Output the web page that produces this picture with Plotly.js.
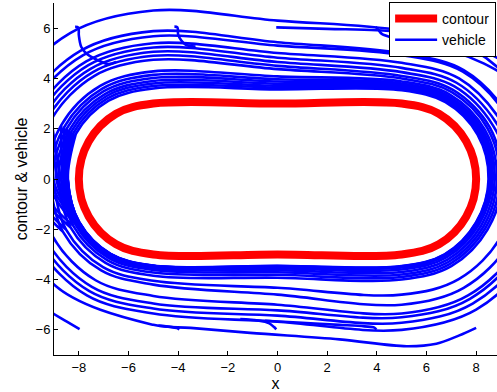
<!DOCTYPE html>
<html>
<head>
<meta charset="utf-8">
<script src="https://cdn.plot.ly/plotly-3.0.1.min.js"></script>
<style>html,body{margin:0;padding:0;background:#fff;}#chart{width:497px;height:392px;}</style>
</head>
<body>
<div id="chart"></div>
<script>
// Contour (stadium) points
const contourX = [0, 5, 6.5, 7.598, 8, 7.598, 6.5, 5, 0, -5, -6.5, -7.598, -8, -7.598, -6.5, -5, 0];
const contourY = [3, 3, 2.598, 1.5, 0, -1.5, -2.598, -3, -3, -3, -2.598, -1.5, 0, 1.5, 2.598, 3, 3];

// Vehicle laps (x list and y list per lap)
const lapX = [
  [-9.633, -11.7, -10.802, -8.35, -5, 0, 5, 7.95, 10.109, 10.95, 10.196, 8, 5, 0, -5, -7.675, -9.633, -10.35, -10.802],
  [-9.46, -10.88, -10.092, -7.94, -5, 0, 5, 7.5, 9.33, 10.36, 9.954, 7.86, 5, 0, -5, -7.575, -9.46, -10.15, -10.092],
  [-9.287, -10.68, -9.919, -7.84, -5, 0, 5, 7.465, 9.269, 10.215, 9.763, 7.75, 5, 0, -5, -7.475, -9.287, -9.95, -9.919],
  [-9.027, -10.4, -9.676, -7.7, -5, 0, 5, 7.31, 9.001, 9.985, 9.633, 7.675, 5, 0, -5, -7.325, -9.027, -9.65, -9.676],
  [-8.637, -10.23, -9.529, -7.615, -5, 0, 5, 7.21, 8.828, 9.71, 9.33, 7.5, 5, 0, -5, -7.1, -8.637, -9.2, -9.529],
  [-8.507, -10.06, -9.382, -7.53, -5, 0, 5, 7.125, 8.681, 9.425, 8.984, 7.3, 5, 0, -5, -7.025, -8.507, -9.05, -9.382],
  [-8.334, -9.9, -9.243, -7.45, -5, 0, 5, 7.05, 8.551, 9.05, 8.464, 7, 5, 0, -5, -6.925, -8.334, -8.85, -9.243],
  [-8.222, -9.74, -9.105, -7.37, -5, 0, 5, 7, 8.464, 8.95, 8.377, 6.95, 5, 0, -5, -6.86, -8.222, -8.72, -9.105],
  [-8.135, -9.28, -8.706, -7.14, -5, 0, 5, 6.94, 8.36, 8.84, 8.291, 6.9, 5, 0, -5, -6.81, -8.135, -8.62, -8.706],
  [-8.074, -9.14, -8.585, -7.07, -5, 0, 5, 6.9, 8.291, 8.75, 8.204, 6.85, 5, 0, -5, -6.775, -8.074, -8.55, -8.585],
  [-8.031, -9.02, -8.481, -7.01, -5, 0, 5, 6.87, 8.239, 8.67, 8.118, 6.8, 5, 0, -5, -6.75, -8.031, -8.5, -8.481],
  [-7.996, -8.9, -8.377, -6.95, -5, 0, 5, 6.84, 8.187, 8.6, 8.048, 6.76, 5, 0, -5, -6.73, -7.996, -8.46, -8.377],
  [-7.988, -8.8, -8.291, -6.9, -5, 0, 5, 6.81, 8.135, 8.555, 8.022, 6.745, 5, 0, -5, -6.725, -7.988, -8.45, -8.291],
  [-7.988, -8.7, -8.204, -6.85, -5, 0, 5, 6.785, 8.092, 8.52, 8.005, 6.735, 5, 0, -5, -6.725, -7.988, -8.45, -8.204],
  [-7.979, -8.6, -8.118, -6.8, -5, 0, 5, 6.765, 8.057, 8.5, 7.996, 6.73, 5, 0, -5, -6.72, -7.979, -8.44, -8.118]
];
const lapY = [
  [-2.675, 0, 3.35, 5.802, 6.7, 6.3, 5.9, 5.109, 2.95, 0, -3, -5.196, -6, -5.675, -5.35, -4.633, -2.675, 0, 3.35],
  [-2.575, 0, 2.94, 5.092, 5.88, 5.44, 5, 4.33, 2.5, 0, -2.86, -4.954, -5.72, -5.435, -5.15, -4.46, -2.575, 0, 2.94],
  [-2.475, 0, 2.84, 4.919, 5.68, 5.305, 4.93, 4.269, 2.465, 0, -2.75, -4.763, -5.5, -5.225, -4.95, -4.287, -2.475, 0, 2.84],
  [-2.325, 0, 2.7, 4.676, 5.4, 5.01, 4.62, 4.001, 2.31, 0, -2.675, -4.633, -5.35, -5.0, -4.65, -4.027, -2.325, 0, 2.7],
  [-2.1, 0, 2.615, 4.529, 5.23, 4.825, 4.42, 3.828, 2.21, 0, -2.5, -4.33, -5, -4.6, -4.2, -3.637, -2.1, 0, 2.615],
  [-2.025, 0, 2.53, 4.382, 5.06, 4.655, 4.25, 3.681, 2.125, 0, -2.3, -3.984, -4.6, -4.325, -4.05, -3.507, -2.025, 0, 2.53],
  [-1.925, 0, 2.45, 4.243, 4.9, 4.5, 4.1, 3.551, 2.05, 0, -2, -3.464, -4, -3.925, -3.85, -3.334, -1.925, 0, 2.45],
  [-1.86, 0, 2.37, 4.105, 4.74, 4.37, 4, 3.464, 2, 0, -1.95, -3.377, -3.9, -3.81, -3.72, -3.222, -1.86, 0, 2.37],
  [-1.81, 0, 2.14, 3.706, 4.28, 4.08, 3.88, 3.36, 1.94, 0, -1.9, -3.291, -3.8, -3.71, -3.62, -3.135, -1.81, 0, 2.14],
  [-1.775, 0, 2.07, 3.585, 4.14, 3.97, 3.8, 3.291, 1.9, 0, -1.85, -3.204, -3.7, -3.625, -3.55, -3.074, -1.775, 0, 2.07],
  [-1.75, 0, 2.01, 3.481, 4.02, 3.88, 3.74, 3.239, 1.87, 0, -1.8, -3.118, -3.6, -3.55, -3.5, -3.031, -1.75, 0, 2.01],
  [-1.73, 0, 1.95, 3.377, 3.9, 3.79, 3.68, 3.187, 1.84, 0, -1.76, -3.048, -3.52, -3.49, -3.46, -2.996, -1.73, 0, 1.95],
  [-1.725, 0, 1.9, 3.291, 3.8, 3.71, 3.62, 3.135, 1.81, 0, -1.745, -3.022, -3.49, -3.47, -3.45, -2.988, -1.725, 0, 1.9],
  [-1.725, 0, 1.85, 3.204, 3.7, 3.635, 3.57, 3.092, 1.785, 0, -1.735, -3.005, -3.47, -3.46, -3.45, -2.988, -1.725, 0, 1.85],
  [-1.72, 0, 1.8, 3.118, 3.6, 3.565, 3.53, 3.057, 1.765, 0, -1.73, -2.996, -3.46, -3.45, -3.44, -2.979, -1.72, 0, 1.8]
];

// Start segments of individual vehicles (starting near (±8,±6), (±4,±6), (0,±6))
const startX = [
  [-8.15, -8.02, -8.0, -7.9, -7.65, -7.3, -6.8, -6.5],
  [-4.15, -4.03, -4.0, -3.88, -3.68, -3.3],
  [-0.05, 2, 4, 5.5, 7, 8.3, 9.2],
  [3.95, 4.05, 4.2, 4.6, 5.5, 7, 8.3, 9.2],
  [8.0, 7.3, 6.4, 5.2, 2.5, -1.1, -3.5, -5, -9.1, -10.8],
  [-7.97, -8.5, -9.0, -9.5],
  [-3.95, -4.05, -4.3, -4.8],
  [-0.05, -0.15, -0.35, -0.8, -1.5],
  [3.98, 3.9, 3.5, 2.5, 1, -0.5]
];
const startY = [
  [6.05, 6.02, 5.72, 5.25, 4.95, 4.76, 4.57, 4.66],
  [6.06, 6.03, 5.74, 5.52, 5.33, 5.27],
  [6.03, 5.97, 5.92, 5.8, 5.5, 5.1, 4.6],
  [6.05, 5.95, 5.77, 5.63, 5.45, 5.1, 4.6, 4.1],
  [-5.92, -6.23, -6.55, -6.65, -6.38, -6.12, -5.92, -5.8, -4.1, 0],
  [-5.97, -5.66, -5.37, -5.05],
  [-5.98, -5.93, -5.88, -5.83],
  [-5.98, -5.88, -5.73, -5.63, -5.57],
  [-5.99, -5.91, -5.86, -5.8, -5.72, -5.64]
];

const xTicks = [-8, -6, -4, -2, 0, 2, 4, 6, 8];
const yTicks = [-6, -4, -2, 0, 2, 4, 6];

const BLUE = 'rgb(0,0,255)';
const traces = [];
traces.push({x: contourX, y: contourY, type: 'scatter', mode: 'lines',
  line: {color: 'rgb(255,0,0)', width: 8, shape: 'spline', smoothing: 1},
  name: 'contour', hoverinfo: 'skip'});
lapX.forEach((xs, i) => {
  traces.push({x: xs, y: lapY[i], type: 'scatter', mode: 'lines',
    line: {color: BLUE, width: 2.6, shape: 'spline', smoothing: 1},
    name: 'vehicle', showlegend: i === 0, hoverinfo: 'skip'});
});
startX.forEach((xs, i) => {
  traces.push({x: xs, y: startY[i], type: 'scatter', mode: 'lines',
    line: {color: BLUE, width: 2.6, shape: 'spline', smoothing: 1},
    name: 'vehicle', showlegend: false, hoverinfo: 'skip'});
});

const FONT = 'Liberation Sans, Arial, sans-serif';
const layout = {
  width: 497, height: 392,
  margin: {l: 54, r: 0, t: 3, b: 37, pad: 0},
  paper_bgcolor: '#fff', plot_bgcolor: '#fff',
  font: {family: FONT, size: 13, color: '#000'},
  showlegend: true,
  legend: {x: 0.998, xanchor: 'right', y: 1.003, yanchor: 'top',
    bgcolor: '#fff', bordercolor: '#000', borderwidth: 1, itemwidth: 42,
    font: {family: FONT, size: 14, color: '#000'}, tracegroupgap: 0},
  xaxis: {range: [-9, 8.84], tickvals: xTicks, ticks: 'inside', ticklen: 4, tickcolor: '#000',
    showline: true, linecolor: '#000', linewidth: 1, mirror: false,
    showgrid: false, zeroline: false, tickfont: {family: FONT, size: 13, color: '#000'},
    title: {text: 'x', font: {family: FONT, size: 16, color: '#000'}, standoff: 6}},
  yaxis: {range: [-7, 7], tickvals: yTicks, ticks: 'inside', ticklen: 4, tickcolor: '#000',
    showline: true, linecolor: '#000', linewidth: 1, mirror: false,
    showgrid: false, zeroline: false, tickfont: {family: FONT, size: 13, color: '#000'},
    title: {text: 'contour &amp; vehicle', font: {family: FONT, size: 16, color: '#000'}, standoff: 3}}
};
Plotly.newPlot('chart', traces, layout, {displayModeBar: false, staticPlot: true});
</script>
</body>
</html>
